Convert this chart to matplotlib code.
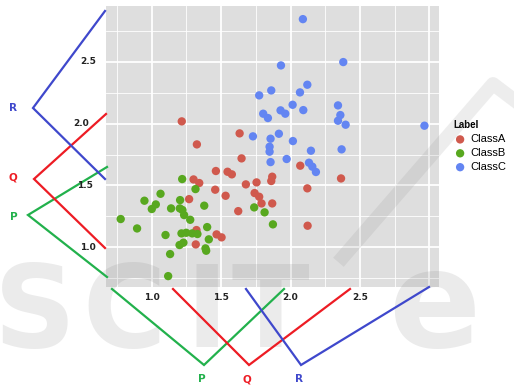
import matplotlib
matplotlib.use("Agg")
import matplotlib.pyplot as plt
import matplotlib.transforms as mtransforms
from matplotlib.lines import Line2D

# ---- data -------------------------------------------------------------
class_a_x = [1.216, 1.325, 1.633, 1.647, 2.070, 1.462, 1.546, 1.577, 1.868, 1.861,
             2.364, 1.301, 1.342, 1.678, 1.755, 1.457, 2.121, 1.532, 1.741, 1.774,
             1.269, 1.791, 1.868, 1.623, 2.123, 1.322, 1.467, 1.503, 1.317]
class_a_y = [2.018, 1.832, 1.921, 1.719, 1.660, 1.617, 1.611, 1.590, 1.571, 1.536,
             1.557, 1.549, 1.520, 1.509, 1.525, 1.466, 1.477, 1.417, 1.439, 1.409,
             1.390, 1.355, 1.355, 1.293, 1.175, 1.140, 1.105, 1.081, 1.024]

class_b_x = [1.219, 1.315, 1.063, 0.947, 1.029, 1.000, 1.204, 1.139, 1.202, 1.221,
             1.233, 1.378, 1.277, 0.776, 0.894, 1.099, 1.214, 1.248, 1.291, 1.329,
             1.399, 1.411, 1.228, 1.200, 1.387, 1.392, 1.132, 1.118, 1.738, 1.813,
             1.873]
class_b_y = [1.552, 1.471, 1.433, 1.377, 1.347, 1.310, 1.382, 1.315, 1.315, 1.302,
             1.261, 1.337, 1.223, 1.229, 1.153, 1.100, 1.113, 1.118, 1.113, 1.108,
             1.164, 1.065, 1.038, 1.019, 0.992, 0.973, 0.946, 0.768, 1.323, 1.283,
             1.186]

class_c_x = [2.089, 2.380, 1.931, 2.121, 1.861, 2.068, 1.774, 2.015, 1.928, 1.962,
             2.092, 1.803, 1.837, 2.342, 2.359, 2.342, 2.397, 2.965, 1.729, 1.916,
             1.856, 2.017, 1.849, 1.849, 2.147, 2.368, 1.972, 1.856, 2.133, 2.157,
             2.183]
class_c_y = [2.844, 2.497, 2.470, 2.314, 2.268, 2.252, 2.228, 2.152, 2.107, 2.080,
             2.109, 2.080, 2.045, 2.147, 2.069, 2.023, 1.991, 1.983, 1.897, 1.918,
             1.878, 1.859, 1.813, 1.773, 1.781, 1.792, 1.714, 1.689, 1.684, 1.652,
             1.609]

labels = ["ClassA", "ClassB", "ClassC"]
colors = ["#d0594d", "#58a81f", "#6385f2"]
tick_values = [1.0, 1.5, 2.0, 2.5]
tick_labels = ["1.0", "1.5", "2.0", "2.5"]
axis_names = ["P", "Q", "R"]
axis_colors = ["#22b14c", "#ed1c24", "#3f48cc"]

# ---- figure -----------------------------------------------------------
W, H = 514, 385
fig = plt.figure(figsize=(W / 100, H / 100), dpi=100)
fig.patch.set_facecolor("white")


def fx(px):
    return px / W


def fy(py):
    return 1 - py / H


ax = fig.add_axes([fx(106), fy(287), fx(439) - fx(106), fy(6) - fy(287)])
ax.set_facecolor("#dedede")
ax.set_xlim(0.67, 3.07)
ax.set_ylim(0.68, 2.95)
for s in ax.spines.values():
    s.set_visible(False)
ax.set_xticks([0.75, 1.0, 1.25, 1.5, 1.75, 2.0, 2.25, 2.5, 2.75, 3.0])
ax.set_yticks([0.75, 1.0, 1.25, 1.5, 1.75, 2.0, 2.25, 2.5, 2.75])
ax.tick_params(length=0, labelbottom=False, labelleft=False)
for v in ax.get_xticks():
    ax.axvline(v, color="white", lw=1.3 if v in tick_values + [3.0] else 0.6, zorder=0)
for v in ax.get_yticks():
    ax.axhline(v, color="white", lw=1.3 if v in tick_values else 0.6, zorder=0)
ax.grid(False)

series = [(class_a_x, class_a_y), (class_b_x, class_b_y), (class_c_x, class_c_y)]
for (xs, ys), lab, col in zip(series, labels, colors):
    ax.scatter(xs, ys, s=36, color=col, edgecolors="none", label=lab, zorder=3)

# tick labels placed outside the panel, beside the P/Q/R guides
ytrans = mtransforms.blended_transform_factory(fig.transFigure, ax.transData)
ylab_px = [88, 85, 81, 88]
for v, t, px in zip(tick_values, tick_labels, ylab_px):
    fig.text(fx(px), v, t, transform=ytrans, ha="center", va="center",
             fontsize=6.5, fontweight="bold", color="#222222", zorder=12)
xtrans = mtransforms.blended_transform_factory(ax.transData, fig.transFigure)
for v, t in zip(tick_values, tick_labels):
    fig.text(v, fy(298), t, transform=xtrans, ha="center", va="center",
             fontsize=6.5, fontweight="bold", color="#222222", zorder=12)

# chevron guides for P, Q, R (left and bottom)
left_guides = [
    [(107, 167), (28, 215), (107, 277)],
    [(106, 114), (34, 179), (105, 248)],
    [(105, 11), (33, 108), (105, 179)],
]
left_label_pos = [(14, 217), (13, 178), (13, 108)]
bottom_guides = [
    [(112, 289), (204, 365), (284, 289)],
    [(173, 289), (249, 365), (350, 289)],
    [(246, 289), (301, 365), (429, 287)],
]
bottom_label_pos = [(202, 379), (247, 379), (299, 379)]

for pts, col in zip(left_guides + bottom_guides, axis_colors + axis_colors):
    fig.add_artist(Line2D([fx(p[0]) for p in pts], [fy(p[1]) for p in pts],
                          color=col, lw=1.6, solid_joinstyle="miter", zorder=11))
for (px, py), name, col in zip(left_label_pos + bottom_label_pos,
                               axis_names + axis_names, axis_colors + axis_colors):
    fig.text(fx(px), fy(py), name, ha="center", va="center", fontsize=7.5,
             fontweight="bold", color=col, zorder=12)

# legend
leg = ax.legend(title="Label", loc="upper left",
                bbox_to_anchor=(fx(449), fy(116)), bbox_transform=fig.transFigure,
                frameon=False, handletextpad=0.3, labelspacing=0.35,
                borderaxespad=0, handlelength=1.2, alignment="left",
                prop={"family": "Liberation Sans", "size": 8})
leg.get_title().set_fontweight("bold")
leg.get_title().set_fontsize(7)
leg.get_title().set_family("Liberation Sans")

# faint publisher watermark
for ch, px, fs in zip("SCITe", [-6, 82, 186, 232, 388], [82, 82, 82, 82, 98]):
    fig.text(fx(px), fy(347), ch, fontsize=fs, fontweight="bold",
             color="#7a7a7a", alpha=0.15, zorder=10)
fig.add_artist(Line2D([fx(343), fx(493), fx(530)], [fy(257), fy(84), fy(112)],
                      color="#7a7a7a", alpha=0.13, lw=10, zorder=10))

fig.savefig("out.png", dpi=100)
